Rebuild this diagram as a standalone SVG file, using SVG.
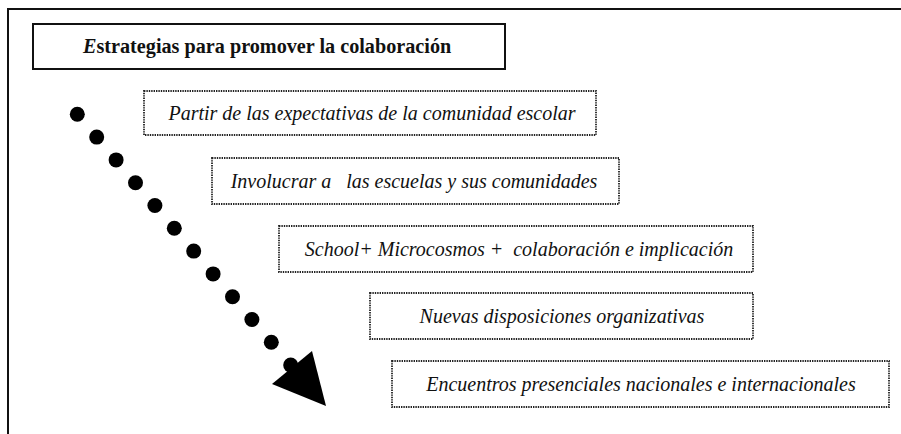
<svg xmlns="http://www.w3.org/2000/svg" width="901" height="434" viewBox="0 0 901 434">
<style>
.frame{fill:none;stroke:#111;stroke-width:2}
.box{fill:#fff;stroke:#222;stroke-width:1.8;stroke-dasharray:1.4 1}
.t{font-family:"Liberation Serif","Times New Roman",serif;font-style:italic;font-size:20px;fill:#111;text-anchor:middle;white-space:pre}
.title{font-family:"Liberation Serif","Times New Roman",serif;font-weight:bold;font-size:20.2px;fill:#111}
.dot{fill:#000}
</style>
<rect width="901" height="434" fill="#fff"/>
<path class="frame" d="M8,434 V9 H901"/>
<g id="title">
<rect class="frame" x="33" y="24" width="472" height="45"/>
<text class="title" x="83" y="53"><tspan font-style="italic">E</tspan>strategias para promover la colaboración</text>
</g>
<g id="box1">
<rect class="box" x="144" y="91" width="452" height="44"/>
<text class="t" x="372" y="120">Partir de las expectativas de la comunidad escolar</text>
</g>
<g id="box2">
<rect class="box" x="212" y="158" width="407" height="46"/>
<text class="t" x="414" y="188" xml:space="preserve">Involucrar a   las escuelas y sus comunidades</text>
</g>
<g id="box3">
<rect class="box" x="279" y="226" width="474" height="46"/>
<text class="t" x="519" y="256" xml:space="preserve">School+ Microcosmos +  colaboración e implicación</text>
</g>
<g id="box4">
<rect class="box" x="370" y="293" width="383" height="46"/>
<text class="t" x="562" y="323">Nuevas disposiciones organizativas</text>
</g>
<g id="box5">
<rect class="box" x="392" y="361" width="497" height="46"/>
<text class="t" x="641" y="391">Encuentros presenciales nacionales e internacionales</text>
</g>
<g id="connectors">
<circle class="dot" cx="77.3" cy="114.3" r="7.5"/>
<circle class="dot" cx="96.7" cy="137.1" r="7.5"/>
<circle class="dot" cx="116.1" cy="159.9" r="7.5"/>
<circle class="dot" cx="135.5" cy="182.7" r="7.5"/>
<circle class="dot" cx="154.9" cy="205.5" r="7.5"/>
<circle class="dot" cx="174.3" cy="228.3" r="7.5"/>
<circle class="dot" cx="193.7" cy="251.1" r="7.5"/>
<circle class="dot" cx="213.1" cy="273.9" r="7.5"/>
<circle class="dot" cx="232.5" cy="296.7" r="7.5"/>
<circle class="dot" cx="251.9" cy="319.5" r="7.5"/>
<circle class="dot" cx="271.3" cy="342.3" r="7.5"/>
<circle class="dot" cx="290.7" cy="365.1" r="7.5"/>
<polygon class="dot" points="312,351 272,384 326,406"/>
</g>
</svg>
